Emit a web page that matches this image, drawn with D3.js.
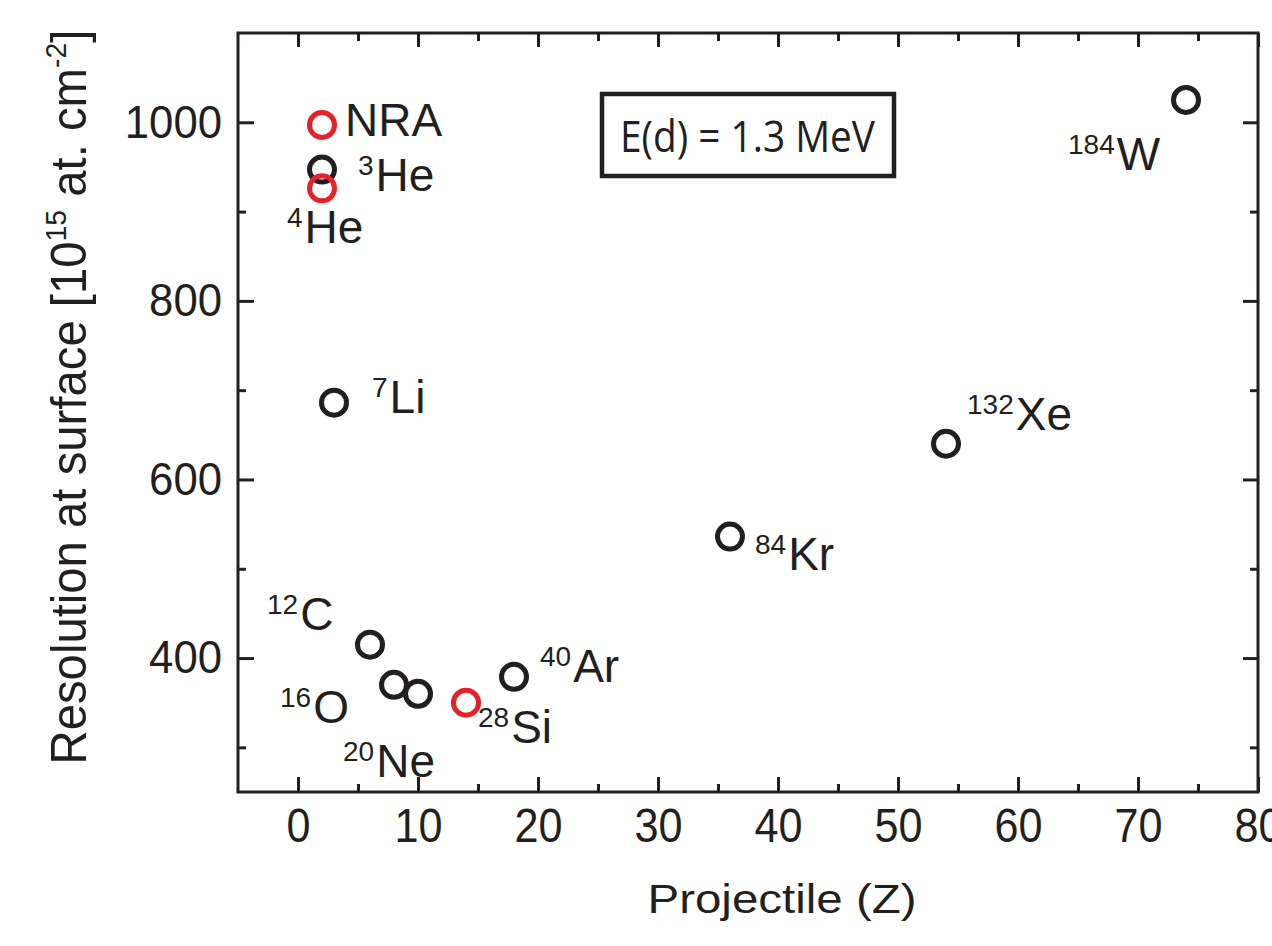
<!DOCTYPE html>
<html>
<head>
<meta charset="utf-8">
<script src="https://cdn.jsdelivr.net/npm/d3@7"></script>
<style>
  body { margin: 0; background: #fff; }
  svg { display: block; }
  text { font-family: "Liberation Sans", Arial, Helvetica, sans-serif; fill: #231f20; }
</style>
</head>
<body>
<svg id="chart" width="1272" height="946"></svg>
<script>
// Data
const elements = ['NRA', 'He', 'He', 'Li', 'C', 'O', 'Ne', 'Si', 'Ar', 'Kr', 'Xe', 'W'];
const massNumbers = ['', '3', '4', '7', '12', '16', '20', '28', '40', '84', '132', '184'];
const projectileZ = [2, 2, 2, 3, 6, 8, 10, 14, 18, 36, 54, 74];
const resolution = [997, 947, 926, 686, 415, 370, 360, 350, 379, 536, 640, 1025];
const isRed = [true, false, true, false, false, false, false, true, false, false, false, false];

const xMajorTicks = [0, 10, 20, 30, 40, 50, 60, 70, 80];
const xMinorTicks = [5, 15, 25, 35, 45, 55, 65, 75];
const yMajorTicks = [400, 600, 800, 1000];
const yMinorTicks = [300, 500, 700, 900];

// Label placement, pixels relative to the marker (layout only)
const labelDx = [23, 36, -35, 38, -103, -114, -75, 12, 26, 25, 21, -118];
const labelDy = [11, 21, 55, 10, -15, 38, 83, 40, 5, 33, -14, 70];

const BLACK = '#231f20';
const RED = '#e5222a';

const svg = d3.select('#chart');
const margin = { left: 238, right: 14, top: 33, bottom: 154 };
const W = 1272 - margin.left - margin.right;
const H = 946 - margin.top - margin.bottom;

const x = d3.scaleLinear().domain([-5, 80]).range([0, W]);
const y = d3.scaleLinear().domain([250, 1100]).range([H, 0]);

const g = svg.append('g').attr('transform', `translate(${margin.left},${margin.top})`);

// Axes with inward ticks
const styleAxis = (sel) => {
    sel.select('.domain').remove();
    sel.selectAll('line').attr('stroke', BLACK).attr('stroke-width', 3);
};

g.append('g').attr('transform', `translate(0,${H})`)
    .call(d3.axisBottom(x).tickValues(xMinorTicks).tickSize(-8).tickFormat(''))
    .call(styleAxis);
const xAxis = g.append('g').attr('transform', `translate(0,${H})`)
    .call(d3.axisBottom(x).tickValues(xMajorTicks).tickSize(-15).tickPadding(16).tickFormat(d3.format('d')))
    .call(styleAxis);
xAxis.selectAll('text')
    .style('font-size', '48px')
    .style('fill', BLACK)
    .each(function () {
        const t = d3.select(this);
        t.attr('textLength', 24 * t.text().length).attr('lengthAdjust', 'spacingAndGlyphs');
    });

g.append('g')
    .call(d3.axisTop(x).tickValues(xMinorTicks).tickSize(-8).tickFormat(''))
    .call(styleAxis);
g.append('g')
    .call(d3.axisTop(x).tickValues(xMajorTicks).tickSize(-14).tickFormat(''))
    .call(styleAxis);

g.append('g')
    .call(d3.axisLeft(y).tickValues(yMinorTicks).tickSize(-8).tickFormat(''))
    .call(styleAxis);
const yAxis = g.append('g')
    .call(d3.axisLeft(y).tickValues(yMajorTicks).tickSize(-16).tickPadding(16).tickFormat(d3.format('d')))
    .call(styleAxis);
yAxis.selectAll('text')
    .style('font-size', '46px')
    .style('fill', BLACK)
    .each(function () {
        const t = d3.select(this);
        t.attr('textLength', 24.3 * t.text().length).attr('lengthAdjust', 'spacingAndGlyphs');
    });

g.append('g').attr('transform', `translate(${W},0)`)
    .call(d3.axisRight(y).tickValues(yMinorTicks).tickSize(-8).tickFormat(''))
    .call(styleAxis);
g.append('g').attr('transform', `translate(${W},0)`)
    .call(d3.axisRight(y).tickValues(yMajorTicks).tickSize(-15).tickFormat(''))
    .call(styleAxis);

// Frame
g.append('rect')
    .attr('width', W).attr('height', H)
    .attr('fill', 'none').attr('stroke', BLACK).attr('stroke-width', 3);

// Points
const points = projectileZ.map((z, i) => ({
    z, r: resolution[i], el: elements[i], mass: massNumbers[i], red: isRed[i], dx: labelDx[i], dy: labelDy[i]
}));

g.selectAll('circle.pt')
    .data(points)
    .join('circle')
    .attr('class', 'pt')
    .attr('cx', d => x(d.z))
    .attr('cy', d => y(d.r))
    .attr('r', 12.5)
    .attr('fill', 'none')
    .attr('stroke', d => d.red ? RED : BLACK)
    .attr('stroke-width', 5);

// Point labels with superscript mass numbers
const labels = g.selectAll('text.lbl')
    .data(points)
    .join('text')
    .attr('class', 'lbl')
    .attr('x', d => x(d.z) + d.dx)
    .attr('y', d => y(d.r) + d.dy)
    .style('font-size', '46px');

labels.each(function (d) {
    const t = d3.select(this);
    if (d.mass) {
        t.append('tspan').text(d.mass).style('font-size', '28px').attr('dy', -16);
        t.append('tspan').text(d.el).attr('dy', 16).attr('dx', 2);
    } else {
        t.append('tspan').text(d.el);
    }
});

// Energy box
g.append('rect')
    .attr('x', 602 - margin.left).attr('y', 94 - margin.top)
    .attr('width', 292).attr('height', 82)
    .attr('fill', 'none').attr('stroke', BLACK).attr('stroke-width', 4.5);
g.append('text')
    .attr('x', 620 - margin.left).attr('y', 152 - margin.top)
    .style('font-family', '"Open Sans", "Noto Sans", sans-serif')
    .style('font-size', '44px')
    .attr('textLength', 255).attr('lengthAdjust', 'spacingAndGlyphs')
    .text('E(d) = 1.3 MeV');

// X title
svg.append('text')
    .attr('x', 782).attr('y', 913)
    .attr('text-anchor', 'middle')
    .style('font-size', '41px')
    .attr('textLength', 269).attr('lengthAdjust', 'spacingAndGlyphs')
    .text('Projectile (Z)');

// Y title (condensed horizontally by scaling)
const yTitle = svg.append('text')
    .style('font-size', '50px');
yTitle.append('tspan').text('Resolution at surface [10');
yTitle.append('tspan').text('15').style('font-size', '30px').attr('dy', -20);
yTitle.append('tspan').text(' at. cm').attr('dy', 20);
yTitle.append('tspan').text('-2').style('font-size', '30px').attr('dy', -20);
yTitle.append('tspan').text(']').attr('dy', 20);
const bb = yTitle.node().getBBox();
const targetLen = 735;
const sx = targetLen / bb.width;
yTitle.attr('x', -bb.width / 2)
    .attr('transform', `translate(86,397) rotate(-90) scale(${sx},1)`);
</script>
</body>
</html>
